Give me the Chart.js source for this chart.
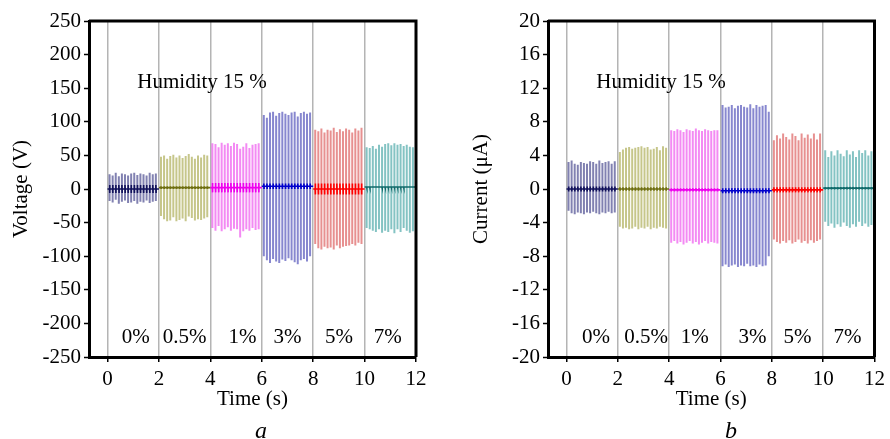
<!DOCTYPE html>
<html>
<head>
<meta charset="utf-8">
<script src="https://cdn.jsdelivr.net/npm/chart.js@4/dist/chart.umd.min.js"></script>
<style>
  body { margin: 0; background: #fff; width: 890px; height: 439px; position: relative; overflow: hidden; font-family: "Liberation Serif", serif; }
  .panel { position: absolute; top: 0; width: 445px; height: 439px; }
  .cap { position: absolute; top: 418px; font-style: italic; font-size: 24px; line-height: 24px; }
</style>
</head>
<body>
<div class="panel" style="left:0"><canvas id="chartA" width="445" height="439"></canvas></div>
<div class="panel" style="left:445px"><canvas id="chartB" width="445" height="439"></canvas></div>
<div class="cap" style="left:255px">a</div>
<div class="cap" style="left:725px">b</div>
<script>
// gas concentration segments, 2 s each
const segments = ["0%", "0.5%", "1%", "3%", "5%", "7%"];
const segmentStart = [0, 2, 4, 6, 8, 10];
const pulsesPerSegment = 16;

const xTicks = [0, 2, 4, 6, 8, 10, 12];
const voltageTicks = [250, 200, 150, 100, 50, 0, -50, -100, -150, -200, -250];
const currentTicks = [20, 16, 12, 8, 4, 0, -4, -8, -12, -16, -20];

// peak values of each pulse (V)
const voltageUp = [
  [22, 20, 24, 19, 23, 22, 20, 23, 24, 21, 23, 22, 20, 24, 22, 23],
  [48, 50, 45, 49, 51, 47, 50, 46, 49, 52, 48, 45, 50, 47, 51, 50],
  [68, 67, 62, 69, 66, 68, 64, 69, 67, 60, 63, 68, 61, 66, 67, 68],
  [110, 106, 114, 115, 109, 113, 115, 112, 110, 114, 115, 108, 113, 115, 112, 114],
  [88, 86, 90, 84, 88, 87, 91, 85, 89, 86, 90, 88, 84, 90, 87, 91],
  [62, 61, 64, 60, 66, 63, 67, 68, 65, 68, 66, 67, 64, 66, 63, 62]
];
const voltageDown = [
  [-18, -20, -16, -22, -19, -17, -21, -20, -18, -22, -19, -20, -17, -21, -19, -18],
  [-40, -45, -48, -47, -42, -48, -46, -44, -48, -41, -43, -47, -45, -46, -44, -42],
  [-58, -62, -55, -63, -60, -57, -62, -59, -60, -72, -63, -60, -62, -58, -61, -60],
  [-100, -106, -110, -104, -108, -110, -105, -107, -103, -106, -109, -112, -106, -104, -108, -100],
  [-82, -88, -90, -86, -88, -87, -90, -84, -88, -86, -85, -84, -82, -84, -80, -82],
  [-58, -60, -62, -64, -60, -65, -62, -64, -60, -66, -60, -64, -58, -62, -65, -63]
];
const voltageBase = [0, 2, 2, 4, 0, 3];
const voltageNoise = [6, 2, 7, 4, 8, 1];

// peak values of each pulse (uA)
const currentUp = [
  [3.2, 3.4, 3.0, 2.9, 3.2, 3.1, 3.0, 3.3, 3.2, 3.0, 3.4, 3.1, 3.2, 3.3, 3.0, 3.3],
  [4.4, 4.7, 4.9, 5.0, 4.8, 4.9, 5.0, 5.1, 4.9, 5.0, 4.7, 4.8, 5.0, 4.6, 5.1, 4.9],
  [7.0, 6.9, 7.1, 7.0, 6.8, 7.1, 7.0, 6.9, 7.2, 7.0, 6.9, 7.1, 7.0, 6.9, 7.0, 7.0],
  [10.0, 9.7, 9.8, 10.0, 9.6, 9.9, 10.0, 9.8, 9.7, 10.1, 9.6, 10.0, 9.8, 9.9, 10.0, 9.2],
  [5.8, 6.4, 6.0, 6.6, 6.2, 5.9, 6.6, 6.3, 5.8, 6.6, 6.1, 6.5, 6.0, 6.6, 5.9, 6.6],
  [4.6, 3.8, 4.5, 4.0, 4.6, 4.2, 3.9, 4.6, 4.1, 4.5, 3.8, 4.6, 4.3, 4.6, 4.0, 4.5]
];
const currentDown = [
  [-2.6, -2.9, -3.0, -2.8, -2.9, -3.0, -2.8, -2.9, -2.7, -2.9, -3.0, -2.8, -2.9, -2.7, -2.9, -2.8],
  [-4.5, -4.7, -4.6, -4.8, -4.7, -4.5, -4.8, -4.6, -4.7, -4.5, -4.8, -4.6, -4.7, -4.5, -4.6, -4.7],
  [-6.4, -6.2, -6.5, -6.3, -6.6, -6.4, -6.2, -6.5, -6.3, -6.6, -6.4, -6.2, -6.5, -6.3, -6.4, -6.5],
  [-9.2, -9.0, -9.3, -9.1, -9.0, -9.3, -9.1, -9.2, -8.9, -9.2, -9.1, -9.3, -9.0, -9.2, -9.1, -8.0],
  [-6.0, -6.3, -6.5, -6.2, -6.4, -6.1, -6.5, -6.3, -6.0, -6.4, -6.2, -6.5, -6.1, -6.4, -6.2, -6.0],
  [-3.9, -4.4, -4.1, -4.6, -4.2, -4.5, -4.0, -4.4, -4.6, -4.2, -4.5, -3.9, -4.4, -4.1, -4.5, -4.3]
];
const currentBase = [0, 0, -0.1, -0.2, -0.1, 0.1];
const currentNoise = [0.3, 0.2, 0.2, 0.3, 0.3, 0.15];

const spikeColors = ["rgba(45,45,125,0.6)", "rgba(160,160,60,0.6)", "rgba(235,60,235,0.6)",
                     "rgba(55,55,175,0.6)", "rgba(215,70,70,0.6)", "rgba(50,155,155,0.6)"];
const baseColors = ["#10105a", "#6e6e10", "#ee00ee", "#0000cc", "#ff0000", "#106a6a"];

function pulseTime(seg, i) {
  return segmentStart[seg] + 0.08 + i * 0.12;
}

function buildDatasets(up, down, base, noise) {
  const sets = [];
  segments.forEach(function (name, s) {
    const spikes = [];
    const zig = [{ x: segmentStart[s], y: base[s] }];
    for (let i = 0; i < pulsesPerSegment; i++) {
      const t = pulseTime(s, i);
      spikes.push({ x: t, y: up[s][i] }, { x: t, y: down[s][i] }, { x: t, y: null });
      zig.push({ x: t, y: base[s] }, { x: t, y: base[s] + noise[s] }, { x: t + 0.01, y: base[s] - noise[s] }, { x: t + 0.01, y: base[s] });
    }
    zig.push({ x: segmentStart[s] + 2, y: base[s] });
    sets.push({ label: name, data: spikes, borderColor: spikeColors[s], borderWidth: 2, order: 2 });
    sets.push({ label: name + " base", data: zig, borderColor: baseColors[s], borderWidth: 1.6, order: 1 });
  });
  return sets;
}

const serif = '"Liberation Serif", "Times New Roman", serif';

const frameAndLabels = {
  id: "frameAndLabels",
  afterDraw(chart, args, opts) {
    const { ctx, chartArea, scales } = chart;
    ctx.save();
    ctx.strokeStyle = "#000";
    ctx.lineWidth = 3;
    ctx.beginPath();
    ctx.moveTo(chartArea.left, chartArea.top);
    ctx.lineTo(chartArea.right, chartArea.top);
    ctx.lineTo(chartArea.right, chartArea.bottom);
    ctx.stroke();
    ctx.fillStyle = "#000";
    ctx.font = "21px " + serif;
    ctx.textBaseline = "middle";
    ctx.textAlign = "left";
    ctx.fillText("Humidity 15 %", scales.x.getPixelForValue(opts.titleX), chartArea.top + 61);
    ctx.textAlign = "center";
    segments.forEach(function (name, i) {
      ctx.fillText(name, scales.x.getPixelForValue(segmentStart[i] + 1 + opts.shift[i]), chartArea.bottom - 20);
    });
    ctx.restore();
  }
};

function minorTicks(major) {
  const out = [];
  for (let i = 0; i < major.length; i++) {
    out.push(major[i]);
    if (i < major.length - 1) out.push((major[i] + major[i + 1]) / 2);
  }
  return out;
}

function makeChart(id, datasets, cfg) {
  return new Chart(document.getElementById(id), {
    type: "line",
    data: { datasets: datasets },
    options: {
      responsive: false,
      animation: false,
      spanGaps: false,
      elements: { point: { radius: 0 }, line: { tension: 0 } },
      layout: { padding: { left: 0, top: 21, right: cfg.padRight, bottom: 27 } },
      plugins: {
        legend: { display: false },
        tooltip: { enabled: false },
        frameAndLabels: { titleX: cfg.titleX, shift: cfg.shift }
      },
      scales: {
        x: {
          type: "linear",
          min: -0.72,
          max: 12,
          afterBuildTicks(scale) { scale.ticks = xTicks.map(v => ({ value: v })); },
          afterFit(scale) { scale.height = 55; },
          ticks: { color: "#000", font: { family: serif, size: 21 }, padding: 5, maxRotation: 0 },
          grid: { color: "#b4b4b4", lineWidth: 1.5, tickColor: "#000", tickLength: 5, tickWidth: 1.5 },
          border: { display: true, color: "#000", width: 3 },
          title: { display: true, text: "Time (s)", color: "#000", font: { family: serif, size: 21 }, padding: 0 }
        },
        y: {
          type: "linear",
          min: cfg.ticks[cfg.ticks.length - 1],
          max: cfg.ticks[0],
          afterBuildTicks(scale) { scale.ticks = minorTicks(cfg.ticks).map(v => ({ value: v })); },
          afterFit(scale) { scale.width = cfg.axisWidth; },
          ticks: {
            color: "#000", font: { family: serif, size: 21 }, padding: 3,
            callback: v => (cfg.ticks.indexOf(v) >= 0 ? String(v) : "")
          },
          grid: { drawOnChartArea: false, tickColor: "#000", tickLength: 5, tickWidth: 1.5 },
          border: { display: true, color: "#000", width: 3 },
          title: { display: true, text: cfg.yTitle, color: "#000", font: { family: serif, size: 21 }, padding: { top: cfg.titlePad, bottom: 0 } }
        }
      }
    },
    plugins: [frameAndLabels]
  });
}

makeChart("chartA", buildDatasets(voltageUp, voltageDown, voltageBase, voltageNoise), {
  ticks: voltageTicks, axisWidth: 89, padRight: 29, yTitle: "Voltage (V)", titlePad: 9, titleX: 1.16,
  shift: [0.1, 0.0, 0.25, 0.0, 0.0, -0.1]
});
makeChart("chartB", buildDatasets(currentUp, currentDown, currentBase, currentNoise), {
  ticks: currentTicks, axisWidth: 103, padRight: 13, yTitle: "Current (\u03bcA)", titlePad: 24, titleX: 1.16,
  shift: [0.15, 0.1, 0.0, 0.25, 0.0, -0.05]
});
</script>
</body>
</html>
